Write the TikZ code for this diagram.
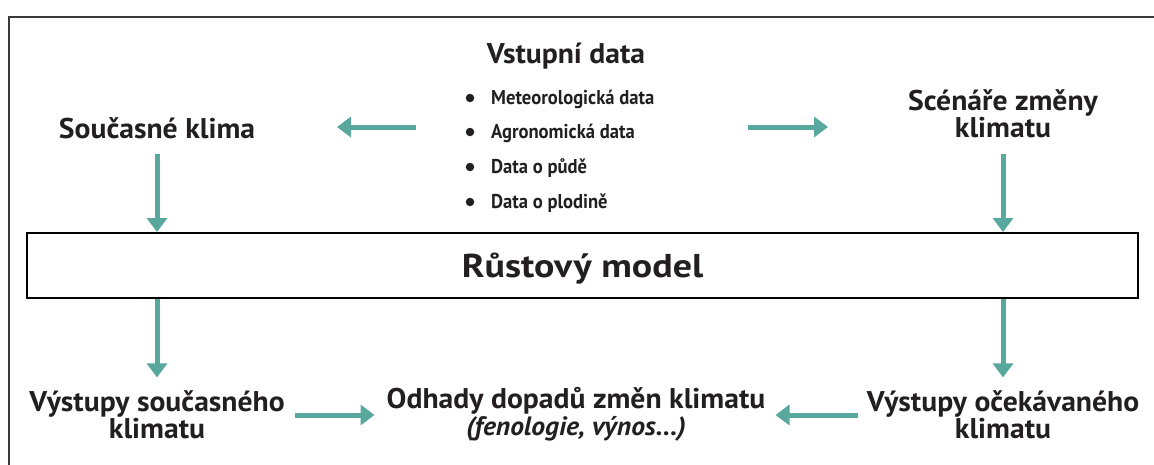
\documentclass[tikz,border=0pt]{standalone}
\usepackage{fontspec}
\setmainfont{PT Sans}
\newfontfamily\lblfont{PT Sans}[FakeStretch=1.04]
\newfontfamily\mdlfont{PT Sans}[FakeStretch=1.15]
\newfontfamily\itmfont{PT Sans}[FakeStretch=0.93]
\usetikzlibrary{arrows.meta,calc}
\definecolor{teal}{HTML}{58A89E}
\definecolor{ink}{HTML}{231F20}
\definecolor{framec}{HTML}{3A3A3A}
\tikzset{
  lbl/.style={inner sep=0pt, text=ink, font=\lblfont\bfseries\fontsize{28.5}{26.5}\selectfont, align=center},
  itm/.style={inner sep=0pt, text=ink, font=\itmfont\bfseries\fontsize{20}{22}\selectfont},
  dotmark/.style={circle, fill=ink, inner sep=0pt, minimum size=8.5pt},
  modelbox/.style={draw=black, line width=2pt, minimum width=1111pt, minimum height=65pt, inner sep=0pt,
    text=ink, font=\mdlfont\bfseries\fontsize{33}{36}\selectfont, text height=23pt, text depth=0pt},
  arr/.style={draw=teal, line width=5pt, -{Triangle[width=20pt,length=14pt]}},
  frameline/.style={draw=framec, line width=2pt}
}
\begin{document}
\begin{tikzpicture}[x=1pt,y=-1pt]
\useasboundingbox (0,0) rectangle (1154,464);
\begin{scope}
  \clip (0,0) rectangle (1154,464);
  \draw[frameline] (9,17) rectangle (1175,485);
\end{scope}

% input data
\node[lbl, anchor=base] (vd) at (566,63) {Vstupní data};
\node[itm, anchor=base west] (i1) at (491,104) {Meteorologická data};
\node[itm, anchor=base west] (i2) at (491,138) {Agronomická data};
\node[itm, anchor=base west] (i3) at (491,173) {Data o půdě};
\node[itm, anchor=base west] (i4) at (491,208) {Data o plodině};
\node[dotmark] (b1) at ($(i1.base west)+(-21,-6)$) {};
\node[dotmark] (b2) at ($(i2.base west)+(-21,-6)$) {};
\node[dotmark] (b3) at ($(i3.base west)+(-21,-6)$) {};
\node[dotmark] (b4) at ($(i4.base west)+(-21,-6)$) {};

% climate nodes
\node[lbl, anchor=base] (sk) at (157,138) {Současné klima};
\node[lbl, anchor=base] (sc) at (1003,137) {Scénáře změny\\klimatu};

% model
\node[modelbox] (rm) at (582.5,265.5) {Růstový model};

% outputs
\node[lbl, anchor=base] (vs) at (157,438) {Výstupy současného\\klimatu};
\node[lbl, anchor=base] (vo) at (1003,438) {Výstupy očekávaného\\klimatu};
\node[lbl, anchor=base] (od) at (576,435) {Odhady dopadů změn klimatu\\[0.5pt]{\itshape\fontsize{26.5}{26.5}\selectfont (fenologie, výnos...)}};

% arrows
\coordinate (inL) at (416,127);
\coordinate (inR) at (748,127);
\coordinate (lowy) at (0,415);
\draw[arr] (inL) -- (inL -| 337,0);
\draw[arr] (inR) -- (inR -| 828,0);
\draw[arr, shorten <=15pt] (sk.south) -- (sk.south |- rm.north);
\draw[arr, shorten <=16pt] (sc.south) -- (sc.south |- rm.north);
\draw[arr] (rm.south -| vs.north) -- ([yshift=13pt]vs.north);
\draw[arr] (rm.south -| vo.north) -- ([yshift=13pt]vo.north);
\draw[arr] ([xshift=10pt]vs.east |- lowy) -- ([xshift=-12pt]od.west |- lowy);
\draw[arr] ([xshift=-9pt]vo.west |- lowy) -- ([xshift=10pt]od.east |- lowy);
\end{tikzpicture}
\end{document}
